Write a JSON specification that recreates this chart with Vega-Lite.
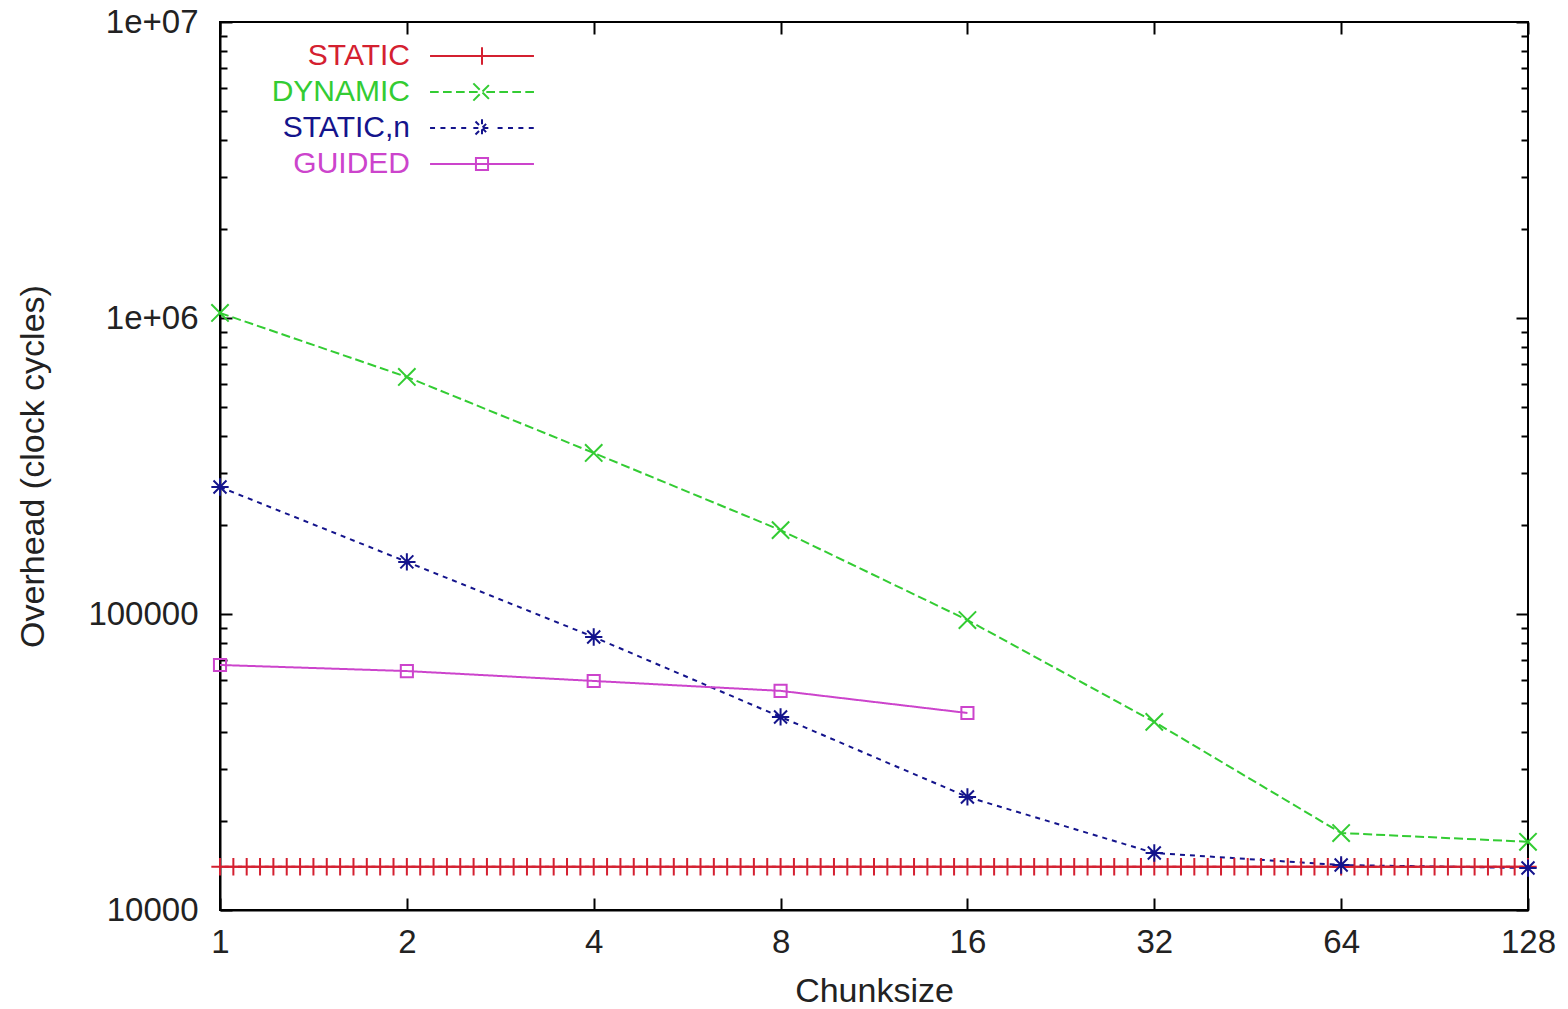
{
  "$schema": "https://vega.github.io/schema/vega-lite/v6.json",
  "autosize": "none",
  "width": 1308,
  "height": 888,
  "padding": {"left": 220, "top": 22, "right": 40, "bottom": 99},
  "background": "white",
  "config": {
    "font": "Liberation Sans",
    "view": {"stroke": "black", "strokeWidth": 2},
    "axis": {"grid": false, "labelFlush": false, "domainColor": "black", "domainWidth": 2, "tickColor": "black", "tickWidth": 2, "labelColor": "#222222", "titleColor": "#222222", "labelFont": "Liberation Sans", "titleFont": "Liberation Sans", "labelFontSize": 33, "titleFontSize": 34, "titleFontWeight": "normal"}
  },
  "data": {"values": [
    {"c":1,"o":14000,"s":"STATIC"},{"c":1.0508,"o":14000,"s":"STATIC"},{"c":1.1041,"o":14000,"s":"STATIC"},{"c":1.1601,"o":14000,"s":"STATIC"},{"c":1.219,"o":14000,"s":"STATIC"},{"c":1.2809,"o":14000,"s":"STATIC"},{"c":1.3459,"o":14000,"s":"STATIC"},{"c":1.4142,"o":14000,"s":"STATIC"},{"c":1.486,"o":14000,"s":"STATIC"},{"c":1.5614,"o":14000,"s":"STATIC"},{"c":1.6407,"o":14000,"s":"STATIC"},{"c":1.7239,"o":14000,"s":"STATIC"},{"c":1.8114,"o":14000,"s":"STATIC"},{"c":1.9034,"o":14000,"s":"STATIC"},
    {"c":2,"o":14000,"s":"STATIC"},{"c":2.1015,"o":14000,"s":"STATIC"},{"c":2.2082,"o":14000,"s":"STATIC"},{"c":2.3203,"o":14000,"s":"STATIC"},{"c":2.438,"o":14000,"s":"STATIC"},{"c":2.5618,"o":14000,"s":"STATIC"},{"c":2.6918,"o":14000,"s":"STATIC"},{"c":2.8284,"o":14000,"s":"STATIC"},{"c":2.972,"o":14000,"s":"STATIC"},{"c":3.1228,"o":14000,"s":"STATIC"},{"c":3.2813,"o":14000,"s":"STATIC"},{"c":3.4479,"o":14000,"s":"STATIC"},{"c":3.6229,"o":14000,"s":"STATIC"},{"c":3.8068,"o":14000,"s":"STATIC"},
    {"c":4,"o":14000,"s":"STATIC"},{"c":4.203,"o":14000,"s":"STATIC"},{"c":4.4164,"o":14000,"s":"STATIC"},{"c":4.6405,"o":14000,"s":"STATIC"},{"c":4.8761,"o":14000,"s":"STATIC"},{"c":5.1235,"o":14000,"s":"STATIC"},{"c":5.3836,"o":14000,"s":"STATIC"},{"c":5.6569,"o":14000,"s":"STATIC"},{"c":5.944,"o":14000,"s":"STATIC"},{"c":6.2457,"o":14000,"s":"STATIC"},{"c":6.5627,"o":14000,"s":"STATIC"},{"c":6.8958,"o":14000,"s":"STATIC"},{"c":7.2458,"o":14000,"s":"STATIC"},{"c":7.6136,"o":14000,"s":"STATIC"},
    {"c":8,"o":14000,"s":"STATIC"},{"c":8.4061,"o":14000,"s":"STATIC"},{"c":8.8327,"o":14000,"s":"STATIC"},{"c":9.281,"o":14000,"s":"STATIC"},{"c":9.7521,"o":14000,"s":"STATIC"},{"c":10.2471,"o":14000,"s":"STATIC"},{"c":10.7672,"o":14000,"s":"STATIC"},{"c":11.3137,"o":14000,"s":"STATIC"},{"c":11.888,"o":14000,"s":"STATIC"},{"c":12.4913,"o":14000,"s":"STATIC"},{"c":13.1254,"o":14000,"s":"STATIC"},{"c":13.7916,"o":14000,"s":"STATIC"},{"c":14.4916,"o":14000,"s":"STATIC"},{"c":15.2271,"o":14000,"s":"STATIC"},
    {"c":16,"o":14000,"s":"STATIC"},{"c":16.8121,"o":14000,"s":"STATIC"},{"c":17.6654,"o":14000,"s":"STATIC"},{"c":18.5621,"o":14000,"s":"STATIC"},{"c":19.5042,"o":14000,"s":"STATIC"},{"c":20.4942,"o":14000,"s":"STATIC"},{"c":21.5344,"o":14000,"s":"STATIC"},{"c":22.6274,"o":14000,"s":"STATIC"},{"c":23.7759,"o":14000,"s":"STATIC"},{"c":24.9827,"o":14000,"s":"STATIC"},{"c":26.2507,"o":14000,"s":"STATIC"},{"c":27.5831,"o":14000,"s":"STATIC"},{"c":28.9832,"o":14000,"s":"STATIC"},{"c":30.4543,"o":14000,"s":"STATIC"},
    {"c":32,"o":14000,"s":"STATIC"},{"c":33.6242,"o":14000,"s":"STATIC"},{"c":35.3309,"o":14000,"s":"STATIC"},{"c":37.1241,"o":14000,"s":"STATIC"},{"c":39.0084,"o":14000,"s":"STATIC"},{"c":40.9884,"o":14000,"s":"STATIC"},{"c":43.0688,"o":14000,"s":"STATIC"},{"c":45.2548,"o":14000,"s":"STATIC"},{"c":47.5518,"o":14000,"s":"STATIC"},{"c":49.9654,"o":14000,"s":"STATIC"},{"c":52.5015,"o":14000,"s":"STATIC"},{"c":55.1663,"o":14000,"s":"STATIC"},{"c":57.9663,"o":14000,"s":"STATIC"},{"c":60.9086,"o":14000,"s":"STATIC"},
    {"c":64,"o":14000,"s":"STATIC"},{"c":67.2484,"o":14000,"s":"STATIC"},{"c":70.6618,"o":14000,"s":"STATIC"},{"c":74.2483,"o":14000,"s":"STATIC"},{"c":78.0169,"o":14000,"s":"STATIC"},{"c":81.9768,"o":14000,"s":"STATIC"},{"c":86.1376,"o":14000,"s":"STATIC"},{"c":90.5097,"o":14000,"s":"STATIC"},{"c":95.1036,"o":14000,"s":"STATIC"},{"c":99.9307,"o":14000,"s":"STATIC"},{"c":105.0029,"o":14000,"s":"STATIC"},{"c":110.3325,"o":14000,"s":"STATIC"},{"c":115.9326,"o":14000,"s":"STATIC"},{"c":121.8172,"o":14000,"s":"STATIC"},{"c":128,"o":14000,"s":"STATIC"},
    {"c":1,"o":1040000,"s":"DYNAMIC"},{"c":2,"o":632000,"s":"DYNAMIC"},{"c":4,"o":350000,"s":"DYNAMIC"},{"c":8,"o":192000,"s":"DYNAMIC"},{"c":16,"o":95400,"s":"DYNAMIC"},{"c":32,"o":43200,"s":"DYNAMIC"},{"c":64,"o":18200,"s":"DYNAMIC"},{"c":128,"o":17000,"s":"DYNAMIC"},
    {"c":1,"o":268500,"s":"STATIC,n"},{"c":2,"o":150000,"s":"STATIC,n"},{"c":4,"o":83600,"s":"STATIC,n"},{"c":8,"o":44900,"s":"STATIC,n"},{"c":16,"o":24100,"s":"STATIC,n"},{"c":32,"o":15580,"s":"STATIC,n"},{"c":64,"o":14190,"s":"STATIC,n"},{"c":128,"o":13860,"s":"STATIC,n"},
    {"c":1,"o":67260,"s":"GUIDED"},{"c":2,"o":64150,"s":"GUIDED"},{"c":4,"o":59400,"s":"GUIDED"},{"c":8,"o":55000,"s":"GUIDED"},{"c":16,"o":46300,"s":"GUIDED"}
  ]},
  "resolve": {"axis": {"x": "independent", "y": "independent"}},
  "layer": [
    {
      "mark": {"type": "line", "strokeWidth": 2},
      "encoding": {
        "x": {"field": "c", "type": "quantitative", "title": "Chunksize",
          "scale": {"type": "log", "base": 2, "domain": [1, 128], "nice": false},
          "axis": {"orient": "bottom", "values": [1, 2, 4, 8, 16, 32, 64, 128], "format": "d", "tickSize": -12, "labelPadding": 28, "titlePadding": 15, "titleFontSize": 34}},
        "y": {"field": "o", "type": "quantitative", "title": "Overhead (clock cycles)",
          "scale": {"type": "log", "domain": [10000, 10000000], "nice": false},
          "axis": {"orient": "left",
            "values": [10000, 20000, 30000, 40000, 50000, 60000, 70000, 80000, 90000, 100000, 200000, 300000, 400000, 500000, 600000, 700000, 800000, 900000, 1000000, 2000000, 3000000, 4000000, 5000000, 6000000, 7000000, 8000000, 9000000, 10000000],
            "labelExpr": "datum.value == 10000000 ? '1e+07' : datum.value == 1000000 ? '1e+06' : datum.value == 100000 ? '100000' : datum.value == 10000 ? '10000' : ''",
            "tickSize": {"condition": {"test": "datum.value == 10000 || datum.value == 100000 || datum.value == 1000000 || datum.value == 10000000", "value": -12}, "value": -7},
            "labelPadding": 34, "titleX": -170}},
        "color": {"field": "s", "type": "nominal",
          "scale": {"domain": ["STATIC", "DYNAMIC", "STATIC,n", "GUIDED"], "range": ["#d42030", "#33cc33", "#14148c", "#cc44cc"]},
          "legend": {"title": null, "orient": "none", "legendX": 247, "legendY": 19, "labelFontSize": 30, "labelFont": "Liberation Sans", "labelAlign": "right", "labelOffset": -87, "rowPadding": 6, "symbolSize": 300, "symbolStrokeWidth": 2, "symbolFillColor": "transparent", "symbolDash": [1, 0],
            "encode": {
              "labels": {"update": {"fill": {"scale": "color", "field": "value"}}},
              "symbols": {
                "update": {"shape": {"signal": "datum.value == 'STATIC' ? 'M-6,0H6M0,-1V1' : datum.value == 'DYNAMIC' ? 'M-6,0H-5M-4.5,0H-3.5M-3,0H-2M-1.5,0H-0.5M0.5,0H1.5M2,0H3M3.5,0H4.5M5,0H6M-1,-1L1,1M-1,1L1,-1' : datum.value == 'STATIC,n' ? 'M-6,0H-5.4M-4.8,0H-4.2M-3.6,0H-3M-2.4,0H-1.8M1.8,0H2.4M3,0H3.6M4.2,0H4.8M5.4,0H6M-1,0H1M0,-1V1M-0.75,-0.75L0.75,0.75M-0.75,0.75L0.75,-0.75' : 'M-6,0H6M-0.7,-0.7H0.7V0.7H-0.7Z'"}}
              }
            }}},
        "strokeDash": {"field": "s", "type": "nominal",
          "scale": {"domain": ["STATIC", "DYNAMIC", "STATIC,n", "GUIDED"], "range": [[1, 0], [9, 4], [5, 5], [1, 0]]},
          "legend": null}
      }
    },
    {
      "transform": [{"filter": "datum.s == 'STATIC'"}],
      "mark": {"type": "point", "filled": false, "strokeWidth": 2, "size": 300, "opacity": 1, "shape": "M-1,0H1M0,-1V1"},
      "encoding": {
        "x": {"field": "c", "type": "quantitative",
          "scale": {"type": "log", "base": 2, "domain": [1, 128], "nice": false},
          "axis": {"orient": "top", "values": [1, 2, 4, 8, 16, 32, 64, 128], "labels": false, "title": null, "tickSize": -12, "domain": false}},
        "y": {"field": "o", "type": "quantitative",
          "scale": {"type": "log", "domain": [10000, 10000000], "nice": false},
          "axis": {"orient": "right", "labels": false, "title": null, "domain": false,
            "values": [10000, 20000, 30000, 40000, 50000, 60000, 70000, 80000, 90000, 100000, 200000, 300000, 400000, 500000, 600000, 700000, 800000, 900000, 1000000, 2000000, 3000000, 4000000, 5000000, 6000000, 7000000, 8000000, 9000000, 10000000],
            "tickSize": {"condition": {"test": "datum.value == 10000 || datum.value == 100000 || datum.value == 1000000 || datum.value == 10000000", "value": -12}, "value": -7}}},
        "color": {"field": "s", "type": "nominal"}
      }
    },
    {
      "transform": [{"filter": "datum.s == 'DYNAMIC'"}],
      "mark": {"type": "point", "filled": false, "strokeWidth": 2, "size": 300, "opacity": 1, "shape": "M-1,-1L1,1M-1,1L1,-1"},
      "encoding": {
        "x": {"field": "c", "type": "quantitative", "axis": null},
        "y": {"field": "o", "type": "quantitative", "axis": null},
        "color": {"field": "s", "type": "nominal"}
      }
    },
    {
      "transform": [{"filter": "datum.s == 'STATIC,n'"}],
      "mark": {"type": "point", "filled": false, "strokeWidth": 2, "size": 300, "opacity": 1, "shape": "M-1,0H1M0,-1V1M-0.75,-0.75L0.75,0.75M-0.75,0.75L0.75,-0.75"},
      "encoding": {
        "x": {"field": "c", "type": "quantitative", "axis": null},
        "y": {"field": "o", "type": "quantitative", "axis": null},
        "color": {"field": "s", "type": "nominal"}
      }
    },
    {
      "transform": [{"filter": "datum.s == 'GUIDED'"}],
      "mark": {"type": "point", "filled": false, "strokeWidth": 2, "size": 300, "opacity": 1, "shape": "M-0.7,-0.7H0.7V0.7H-0.7Z"},
      "encoding": {
        "x": {"field": "c", "type": "quantitative", "axis": null},
        "y": {"field": "o", "type": "quantitative", "axis": null},
        "color": {"field": "s", "type": "nominal"}
      }
    }
  ]
}
